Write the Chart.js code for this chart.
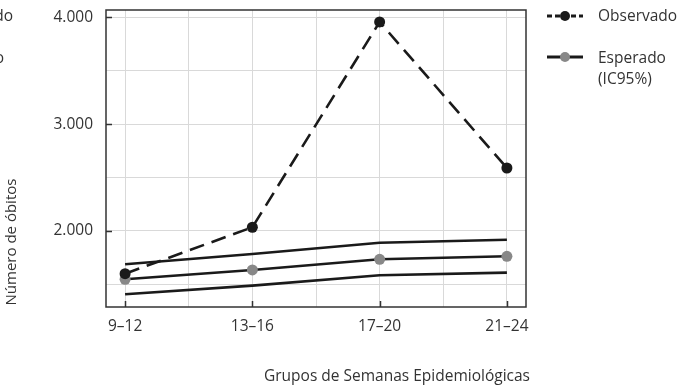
<!DOCTYPE html>
<html>
<head>
<meta charset="utf-8">
<script src="https://cdn.jsdelivr.net/npm/chart.js@4"></script>
<style>
  html, body { margin: 0; padding: 0; background: #fff; }
  #wrap { position: relative; width: 692px; height: 390px; overflow: hidden; font-family: "Open Sans", sans-serif; color: #333; }
  #chart { position: absolute; left: 0; top: 0; }
  .txt { position: absolute; font-size: 15.5px; white-space: nowrap; line-height: 1; }
  .legend-sample { position: absolute; }
</style>
</head>
<body>
<div id="wrap">
  <canvas id="chart" width="692" height="390"></canvas>

  <!-- fragmentos cortados do painel vizinho -->
  <div class="txt" style="left:13px; top:8px; transform:translateX(-100%);">Observado</div>
  <div class="txt" style="left:4px; top:50px; transform:translateX(-100%);">Esperado</div>

  <!-- legenda -->
  <svg class="legend-sample" style="left:545px; top:8px;" width="40" height="16">
    <line x1="2" y1="8" x2="38" y2="8" stroke="#1a1a1a" stroke-width="3" stroke-dasharray="5,3"></line>
    <circle cx="20" cy="8" r="5" fill="#1a1a1a"></circle>
  </svg>
  <div class="txt" style="left:598px; top:8px;">Observado</div>

  <svg class="legend-sample" style="left:545px; top:49px;" width="40" height="16">
    <line x1="2" y1="8" x2="38" y2="8" stroke="#1a1a1a" stroke-width="3"></line>
    <circle cx="20" cy="8" r="5" fill="#888"></circle>
  </svg>
  <div class="txt" style="left:598px; top:50px;">Esperado</div>
  <div class="txt" style="left:598px; top:71px;">(IC95%)</div>

  <!-- titulos dos eixos -->
  <div class="txt" style="left:10px; top:242px; font-size:15px; transform:translate(-50%,-50%) rotate(-90deg);">Número de óbitos</div>
  <div class="txt" style="left:397px; top:368px; transform:translateX(-50%);">Grupos de Semanas Epidemiológicas</div>
</div>

<script>
const categorias = ['9–12', '13–16', '17–20', '21–24'];
const observado = [1600, 2035, 3958, 2590];
const esperado = [1548, 1635, 1735, 1763];
const esperadoSup = [1688, 1785, 1890, 1918];
const esperadoInf = [1407, 1488, 1585, 1610];
const yTicks = [1500, 2000, 2500, 3000, 3500, 4000];
const xTicks = [0, 0.5, 1, 1.5, 2, 2.5, 3];

const pontos = arr => arr.map((v, i) => ({ x: i, y: v }));
const fmt = v => v.toLocaleString('pt-BR');

// moldura e marcas internas dos eixos
const moldura = {
    id: 'moldura',
    afterDraw(chart) {
        const { ctx, chartArea: a, scales } = chart;
        ctx.save();
        ctx.strokeStyle = '#333';
        ctx.lineWidth = 1.5;
        ctx.strokeRect(a.left, a.top, a.right - a.left, a.bottom - a.top);
        ctx.beginPath();
        yTicks.filter(v => v % 1000 === 0).forEach(v => {
            const y = Math.round(scales.y.getPixelForValue(v)) + 0.5;
            ctx.moveTo(a.left, y);
            ctx.lineTo(a.left + 6, y);
        });
        categorias.forEach((c, i) => {
            const x = Math.round(scales.x.getPixelForValue(i)) + 0.5;
            ctx.moveTo(x, a.bottom);
            ctx.lineTo(x, a.bottom - 6);
        });
        ctx.stroke();
        ctx.restore();
    }
};

const linha = (data, extra) => Object.assign({
    data: pontos(data),
    borderColor: '#1a1a1a',
    borderWidth: 2.6,
    pointRadius: 0,
    fill: false,
    tension: 0
}, extra);

const semPadding = s => { s.paddingTop = 0; s.paddingBottom = 0; s.paddingLeft = 0; s.paddingRight = 0; };

new Chart(document.getElementById('chart'), {
    type: 'line',
    data: {
        datasets: [
            linha(esperadoSup, { order: 4 }),
            linha(esperadoInf, { order: 4 }),
            linha(esperado, { order: 3, pointRadius: 5.5, pointBackgroundColor: '#888', pointBorderColor: '#888', pointBorderWidth: 0 }),
            linha(observado, { order: 1, borderDash: [15, 8], pointRadius: 5.5, pointBackgroundColor: '#1a1a1a', pointBorderColor: '#1a1a1a', pointBorderWidth: 0 })
        ]
    },
    options: {
        responsive: false,
        animation: false,
        events: [],
        layout: { padding: { left: 0, right: 166, top: 10, bottom: 43 } },
        plugins: { legend: { display: false }, tooltip: { enabled: false } },
        scales: {
            x: {
                type: 'linear',
                min: -0.15,
                max: 3.15,
                afterBuildTicks: s => { s.ticks = xTicks.map(v => ({ value: v })); },
                afterFit: s => { s.height = 40; semPadding(s); },
                grid: { color: '#d9d9d9', lineWidth: 1, drawTicks: false },
                border: { display: false },
                ticks: {
                    padding: 10,
                    color: '#333',
                    font: { family: 'Open Sans', size: 15.5 },
                    autoSkip: false,
                    maxRotation: 0,
                    callback: v => Number.isInteger(v) ? categorias[v] : ''
                }
            },
            y: {
                min: 1288,
                max: 4070,
                afterBuildTicks: s => { s.ticks = yTicks.map(v => ({ value: v })); },
                afterFit: s => { s.width = 106; semPadding(s); },
                grid: { color: '#d9d9d9', lineWidth: 1, drawTicks: false },
                border: { display: false },
                ticks: {
                    padding: 13,
                    color: '#333',
                    font: { family: 'Open Sans', size: 15.5 },
                    callback: v => v % 1000 === 0 ? fmt(v) : ''
                }
            }
        }
    },
    plugins: [moldura]
});
</script>
</body>
</html>
